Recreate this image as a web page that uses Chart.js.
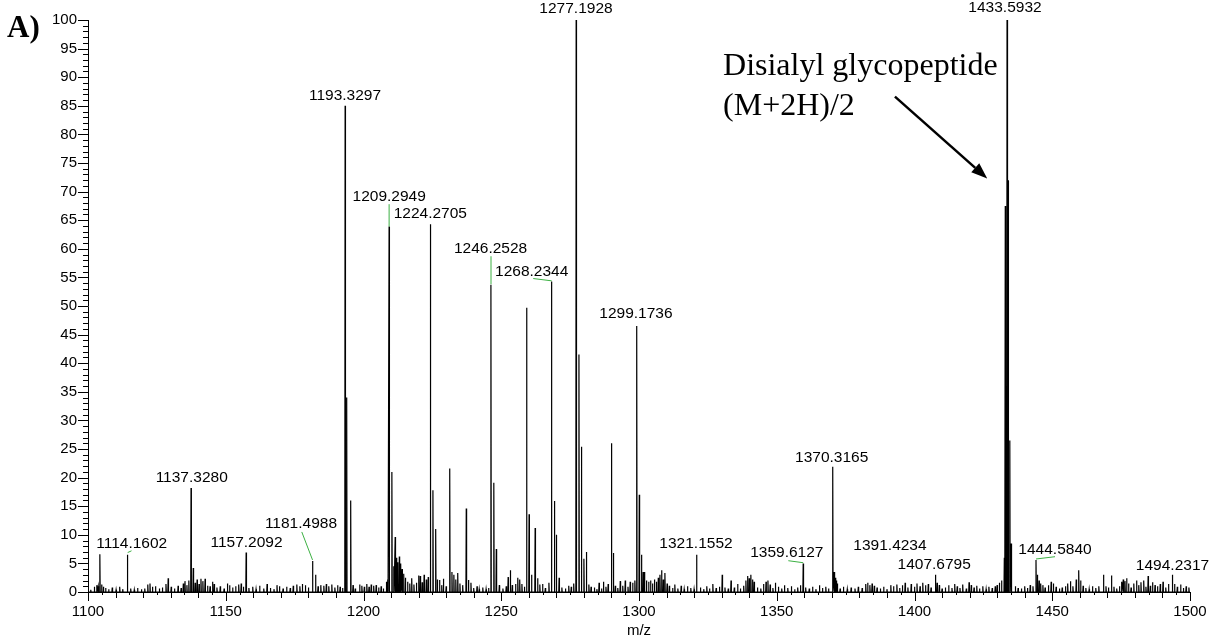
<!DOCTYPE html>
<html>
<head>
<meta charset="utf-8">
<script src="https://cdn.jsdelivr.net/npm/chart.js@4.4.1/dist/chart.umd.min.js"></script>
<style>
  html, body { margin: 0; padding: 0; background: #fff; }
</style>
</head>
<body>
<canvas id="msChart" width="1218" height="642"></canvas>
<script>
// axis ticks
const xTickValues = [1100, 1150, 1200, 1250, 1300, 1350, 1400, 1450, 1500];
const yTickValues = [0, 5, 10, 15, 20, 25, 30, 35, 40, 45, 50, 55, 60, 65, 70, 75, 80, 85, 90, 95, 100];

// main peaks (m/z, relative abundance)
const peakMz = [
  1104.3, 1114.3, 1137.4, 1138.2, 1157.4, 1181.5,
  1193.33, 1193.9, 1195.35,
  1209.29, 1210.3, 1211.5,
  1224.27, 1225.2, 1226.2, 1231.3, 1237.3,
  1246.25, 1247.3, 1248.2, 1253.3,
  1259.2, 1260.1, 1262.3,
  1268.23, 1269.3, 1270.0,
  1277.19, 1278.2, 1279.1, 1280.0, 1280.9,
  1290.0, 1290.7,
  1299.17, 1300.1, 1300.9, 1301.5,
  1320.9, 1359.6, 1370.32, 1407.6,
  1432.6, 1432.95, 1433.59, 1433.85, 1434.1, 1434.6, 1435.1,
  1444.1, 1459.6
];
const peakIntensity = [
  6.6, 6.5, 18.2, 4.2, 6.9, 5.4,
  85, 34, 16,
  63.9, 21, 9.6,
  64.3, 17.8, 11, 21.6, 14.6,
  53.7, 19.1, 7.5, 3.8,
  49.7, 13.6, 11.2,
  54.3, 15.9, 10,
  100, 41.5, 25.4, 5.8, 7.0,
  26, 6.8,
  46.5, 17, 6.5, 3.5,
  6.5, 5.0, 21.9, 3.0,
  6, 67.5, 100, 32, 72, 26.5, 8.5,
  5.6, 3.8
];

// baseline noise spikes (m/z, relative abundance)
const noisePeaks = [
  [1101.0,0.4],[1102.3,0.9],[1103.2,1.2],[1103.7,1.0],[1105.0,1.3],[1105.6,0.9],[1106.4,0.7],[1107.5,0.5],[1108.8,0.8],[1110.2,0.4],
  [1111.5,0.9],[1112.6,0.5],[1115.5,0.6],[1116.8,0.4],[1118.0,0.7],[1119.4,0.5],[1120.6,0.6],[1121.7,1.3],[1122.5,1.5],[1123.4,0.9],
  [1124.5,1.0],[1125.9,0.6],[1127.0,0.8],[1128.3,1.4],[1129.1,2.4],[1130.2,0.9],[1131.4,0.6],[1132.7,1.1],[1133.8,0.7],[1134.6,1.5],
  [1135.2,1.9],[1135.9,1.2],[1136.6,2.0],[1138.9,1.6],[1139.6,2.2],[1140.3,1.4],[1141.0,2.3],[1141.7,1.9],[1142.5,2.3],[1143.4,1.1],
  [1144.3,1.0],[1145.2,1.8],[1145.8,1.4],[1146.8,0.8],[1148.0,1.0],[1149.4,0.6],[1150.6,1.5],[1151.4,1.2],[1152.5,0.8],[1153.6,1.0],
  [1154.7,1.3],[1155.6,1.5],[1156.4,0.9],[1158.4,0.7],[1159.8,0.9],[1161.0,0.5],[1162.3,1.1],[1163.8,0.6],[1165.0,1.4],[1166.2,0.7],
  [1167.5,0.5],[1168.6,1.2],[1169.5,1.0],[1170.8,0.6],[1172.1,0.9],[1173.4,0.7],[1174.5,1.1],[1175.8,1.3],[1176.9,1.0],[1177.8,1.4],
  [1178.9,1.2],[1180.0,0.8],[1182.6,3.0],[1183.5,1.0],[1184.5,1.2],[1185.6,1.1],[1186.5,1.4],[1187.4,1.0],[1188.5,1.3],[1189.6,0.8],
  [1190.6,1.2],[1191.5,0.9],[1192.4,0.7],[1196.2,1.2],[1197.0,0.6],[1198.6,1.3],[1199.4,1.1],[1200.3,0.9],[1201.2,1.4],[1202.0,0.9],
  [1202.8,1.3],[1203.7,1.1],[1204.6,1.2],[1205.5,0.8],[1206.4,1.0],[1207.2,0.6],[1208.3,1.8],[1208.8,2.2],[1211.0,4.5],[1212.0,6.0],
  [1212.4,5.2],[1213.0,6.2],[1213.5,5.0],[1214.0,4.0],[1214.6,3.2],[1215.2,2.5],[1216.0,1.8],[1216.8,1.5],[1217.5,2.4],[1218.3,1.3],
  [1219.2,1.6],[1220.0,2.9],[1220.6,2.8],[1221.3,1.7],[1222.0,3.0],[1222.8,2.2],[1223.5,2.6],[1226.8,2.2],[1227.6,2.1],[1228.4,1.2],
  [1229.0,2.3],[1230.0,1.0],[1232.1,3.5],[1232.8,3.0],[1233.5,2.2],[1234.2,3.3],[1235.0,1.5],[1236.0,1.2],[1238.1,2.1],[1239.0,1.6],
  [1240.0,0.7],[1241.2,1.0],[1242.0,0.5],[1243.3,0.8],[1244.5,0.5],[1245.4,0.7],[1249.3,1.2],[1250.6,0.6],[1251.8,1.0],[1252.5,2.6],
  [1254.0,1.2],[1255.2,1.4],[1256.0,2.5],[1256.7,2.2],[1257.5,1.4],[1258.4,0.9],[1261.0,3.0],[1263.2,2.4],[1264.0,1.3],[1265.0,1.4],
  [1266.0,0.7],[1267.3,1.6],[1271.0,2.5],[1272.0,0.8],[1273.3,0.6],[1274.5,1.1],[1275.4,0.9],[1276.3,1.5],[1281.8,1.3],[1282.6,0.9],
  [1283.8,0.8],[1284.7,0.5],[1285.5,1.6],[1286.4,0.6],[1287.1,1.8],[1288.0,0.9],[1288.8,1.4],[1291.4,1.1],[1292.3,0.7],[1293.2,1.9],
  [1294.1,1.1],[1295.0,2.0],[1296.0,0.9],[1296.8,1.8],[1297.7,1.6],[1298.5,2.0],[1302.0,3.5],[1302.7,2.0],[1303.5,1.8],[1304.2,2.0],
  [1304.9,1.5],[1305.6,2.2],[1306.3,1.8],[1307.0,2.5],[1307.6,3.0],[1308.2,3.8],[1308.8,2.2],[1309.4,3.3],[1310.2,1.5],[1311.0,1.1],
  [1312.2,0.7],[1313.0,1.3],[1314.1,0.6],[1315.3,1.1],[1316.4,0.5],[1317.6,1.0],[1318.8,0.7],[1320.0,0.5],[1322.3,0.8],[1323.5,0.5],
  [1324.6,1.0],[1325.6,0.6],[1326.8,1.4],[1328.0,0.7],[1329.2,0.9],[1330.2,3.0],[1331.2,0.8],[1332.4,0.6],[1333.4,2.0],[1334.6,0.8],
  [1335.8,1.4],[1336.8,0.6],[1338.0,1.1],[1338.8,2.0],[1339.4,2.8],[1340.0,2.4],[1340.6,3.0],[1341.2,2.2],[1341.8,1.8],[1343.0,0.8],
  [1344.2,0.6],[1345.2,1.4],[1346.1,1.8],[1346.8,2.0],[1347.6,1.3],[1348.6,0.7],[1349.5,1.6],[1350.6,0.9],[1351.8,0.6],[1352.8,1.2],
  [1354.0,0.7],[1355.3,1.0],[1356.5,0.5],[1357.6,0.8],[1358.6,1.2],[1360.5,0.8],[1361.8,0.6],[1363.0,0.9],[1364.2,0.5],[1365.5,1.2],
  [1366.6,0.7],[1367.8,0.9],[1368.8,0.6],[1370.8,3.5],[1371.2,2.5],[1371.6,2.0],[1372.0,1.5],[1373.0,0.6],[1374.2,0.9],[1375.6,0.5],
  [1377.0,0.8],[1378.4,0.6],[1379.6,0.9],[1381.0,0.7],[1382.3,1.4],[1383.0,1.6],[1383.8,1.2],[1384.6,1.5],[1385.4,1.1],[1386.4,0.8],
  [1387.6,0.6],[1388.8,0.9],[1390.0,0.5],[1391.4,1.2],[1392.4,1.0],[1393.6,1.3],[1394.6,0.7],[1395.6,1.2],[1396.6,1.6],[1397.6,0.8],
  [1398.8,1.4],[1400.0,0.9],[1400.9,1.5],[1402.0,1.0],[1403.0,1.6],[1404.0,1.2],[1405.0,1.4],[1406.0,0.8],[1408.2,1.6],[1409.0,1.2],
  [1410.0,0.6],[1411.2,0.8],[1412.4,1.2],[1413.6,0.7],[1414.6,1.4],[1415.5,1.0],[1416.5,0.7],[1417.5,1.3],[1418.8,0.6],[1419.8,1.7],
  [1420.6,1.2],[1421.6,0.8],[1422.6,1.1],[1423.6,0.6],[1424.8,1.0],[1426.0,0.5],[1427.0,0.9],[1428.2,0.7],[1429.3,1.0],[1430.0,1.2],
  [1430.8,1.6],[1431.6,2.0],[1436.6,1.0],[1437.6,0.7],[1438.8,0.6],[1440.0,1.0],[1441.0,0.7],[1442.0,1.2],[1443.0,1.0],[1444.6,3.0],
  [1445.2,2.0],[1445.8,1.5],[1446.6,1.2],[1447.4,0.8],[1448.6,1.2],[1449.6,1.8],[1450.4,1.5],[1451.4,0.9],[1452.6,0.6],[1453.6,0.8],
  [1454.8,1.0],[1455.6,1.5],[1456.6,1.9],[1457.5,1.0],[1458.7,2.2],[1460.3,2.0],[1461.2,1.1],[1462.2,0.7],[1463.4,0.5],[1464.6,1.0],
  [1465.8,0.7],[1466.9,1.0],[1468.6,3.0],[1469.5,1.0],[1470.4,0.8],[1471.5,2.9],[1472.4,0.9],[1473.4,0.6],[1474.4,1.0],[1475.2,1.8],
  [1475.8,2.2],[1476.4,1.9],[1477.0,2.4],[1477.7,1.5],[1478.6,0.8],[1479.6,1.5],[1480.6,2.0],[1481.4,1.2],[1482.2,1.7],[1483.2,2.0],
  [1484.0,0.9],[1484.8,2.8],[1485.6,1.1],[1486.4,1.7],[1487.3,1.2],[1488.2,1.0],[1489.2,1.4],[1490.2,1.8],[1491.2,0.8],[1492.2,1.4],
  [1493.6,3.0],[1494.4,1.4],[1495.4,0.9],[1496.6,1.3],[1497.6,0.7],[1498.6,1.0],[1499.6,0.8]
];

// peak annotations
const labelText = [
  '1114.1602', '1137.3280', '1157.2092', '1181.4988', '1193.3297', '1209.2949',
  '1224.2705', '1246.2528', '1268.2344', '1277.1928', '1299.1736', '1321.1552',
  '1359.6127', '1370.3165', '1391.4234', '1407.6795', '1433.5932', '1444.5840', '1494.2317'
];

// where each annotation sits (m/z, abundance) and its green leader, if any
const labelPlacement = [
  { x: 1115.86, y: 8.4, lead: [1114.4, 6.9, 1115.8, 7.2] },
  { x: 1137.64, y: 20.0 },
  { x: 1157.53, y: 8.65 },
  { x: 1177.3, y: 11.9, lead: [1177.6, 10.5, 1181.5, 5.6] },
  { x: 1193.28, y: 86.7 },
  { x: 1209.33, y: 69.1, lead: [1209.3, 67.8, 1209.3, 63.9] },
  { x: 1224.25, y: 66.1 },
  { x: 1246.13, y: 60.0, lead: [1246.28, 58.7, 1246.28, 53.8] },
  { x: 1261.05, y: 56.0, lead: [1261.6, 54.8, 1268.3, 54.4] },
  { x: 1277.13, y: 101.9 },
  { x: 1298.9, y: 48.6 },
  { x: 1320.69, y: 8.4 },
  { x: 1353.64, y: 6.82, lead: [1354.2, 5.47, 1359.6, 5.12] },
  { x: 1369.94, y: 23.5 },
  { x: 1391.1, y: 8.04 },
  { x: 1407.15, y: 4.72 },
  { x: 1432.85, y: 102.2 },
  { x: 1451.0, y: 7.34, lead: [1444.1, 5.77, 1451.0, 6.17] },
  { x: 1493.65, y: 4.55 }
];

const allPeaks = peakMz.map((m, i) => [m, peakIntensity[i]])
  .concat(noisePeaks)
  .sort((a, b) => a[0] - b[0]);

const profile = [{ x: 1100, y: 0 }];
allPeaks.forEach(([m, h]) => {
  profile.push({ x: m - 0.12, y: 0 }, { x: m, y: h }, { x: m + 0.12, y: 0 });
});
profile.push({ x: 1500, y: 0 });

const SANS = '"Liberation Sans", Arial, sans-serif';
const SERIF = '"Liberation Serif", "Times New Roman", serif';

const decorPlugin = {
  id: 'decor',
  afterDraw(chart) {
    const { ctx, scales: { x, y } } = chart;
    ctx.save();

    // minor/major tick marks
    ctx.strokeStyle = '#000';
    ctx.lineWidth = 1;
    ctx.beginPath();
    for (let v = 0; v <= 100; v++) {
      const py = Math.round(y.getPixelForValue(v)) + 0.5;
      const len = v % 5 === 0 ? 10 : 5;
      ctx.moveTo(x.left - len, py);
      ctx.lineTo(x.left, py);
    }
    for (let v = 1100; v <= 1500; v += 5) {
      const px = Math.round(x.getPixelForValue(v)) + 0.5;
      const len = v % 50 === 0 ? 9 : (v % 10 === 0 ? 6 : 3);
      ctx.moveTo(px, y.bottom);
      ctx.lineTo(px, y.bottom + len);
    }
    ctx.stroke();

    // green leaders
    ctx.strokeStyle = '#3cb043';
    ctx.lineWidth = 1;
    labelPlacement.forEach(p => {
      if (!p.lead) return;
      ctx.beginPath();
      ctx.moveTo(x.getPixelForValue(p.lead[0]), y.getPixelForValue(p.lead[1]));
      ctx.lineTo(x.getPixelForValue(p.lead[2]), y.getPixelForValue(p.lead[3]));
      ctx.stroke();
    });

    // peak labels
    ctx.fillStyle = '#000';
    ctx.font = '15.5px ' + SANS;
    ctx.textAlign = 'center';
    ctx.textBaseline = 'middle';
    labelText.forEach((t, i) => {
      const p = labelPlacement[i];
      ctx.fillText(t, x.getPixelForValue(p.x), y.getPixelForValue(p.y));
    });

    // axis title
    ctx.font = '15px ' + SANS;
    ctx.fillText('m/z', (x.left + x.right) / 2, 631);

    // panel letter
    ctx.font = 'bold 31px ' + SERIF;
    ctx.textAlign = 'left';
    ctx.textBaseline = 'alphabetic';
    ctx.fillText('A)', 7, 37);

    // annotation text
    ctx.font = '32px ' + SERIF;
    const tx = x.getPixelForValue(1330.5);
    ctx.fillText('Disialyl glycopeptide', tx, y.getPixelForValue(90.4));
    ctx.fillText('(M+2H)/2', tx, y.getPixelForValue(83.4));

    // arrow
    const x0 = x.getPixelForValue(1392.9), y0 = y.getPixelForValue(86.6);
    const x1 = x.getPixelForValue(1426.4), y1 = y.getPixelForValue(72.3);
    const ang = Math.atan2(y1 - y0, x1 - x0);
    const head = 16, half = 6;
    const bx = x1 - head * Math.cos(ang), by = y1 - head * Math.sin(ang);
    ctx.strokeStyle = '#000';
    ctx.lineWidth = 2.5;
    ctx.beginPath();
    ctx.moveTo(x0, y0);
    ctx.lineTo(bx, by);
    ctx.stroke();
    ctx.beginPath();
    ctx.moveTo(x1, y1);
    ctx.lineTo(bx + half * Math.sin(ang), by - half * Math.cos(ang));
    ctx.lineTo(bx - half * Math.sin(ang), by + half * Math.cos(ang));
    ctx.closePath();
    ctx.fill();

    ctx.restore();
  }
};

new Chart(document.getElementById('msChart'), {
  type: 'line',
  data: {
    datasets: [{
      data: profile,
      borderColor: '#000',
      borderWidth: 1.2,
      pointRadius: 0,
      tension: 0,
      fill: false,
    }],
  },
  options: {
    responsive: false,
    animation: false,
    devicePixelRatio: 1,
    layout: { padding: { left: 0, right: 28, top: 20, bottom: 0 } },
    plugins: { legend: { display: false }, tooltip: { enabled: false } },
    scales: {
      x: {
        type: 'linear',
        min: 1100,
        max: 1500,
        afterBuildTicks: s => { s.ticks = xTickValues.map(v => ({ value: v })); },
        afterFit: s => { s.height = 50; },
        ticks: {
          color: '#000',
          font: { family: SANS, size: 15 },
          padding: 11,
          maxRotation: 0,
          autoSkip: false,
          callback: v => String(v),
        },
        grid: { display: false, drawTicks: false },
        border: { display: true, color: '#000', width: 1 },
      },
      y: {
        min: 0,
        max: 100,
        afterBuildTicks: s => { s.ticks = yTickValues.map(v => ({ value: v })); },
        afterFit: s => { s.width = 88; },
        ticks: {
          color: '#000',
          font: { family: SANS, size: 15 },
          padding: 11,
          autoSkip: false,
          callback: v => String(v),
        },
        grid: { display: false, drawTicks: false },
        border: { display: true, color: '#000', width: 1 },
      },
    },
  },
  plugins: [decorPlugin],
});
</script>
</body>
</html>
